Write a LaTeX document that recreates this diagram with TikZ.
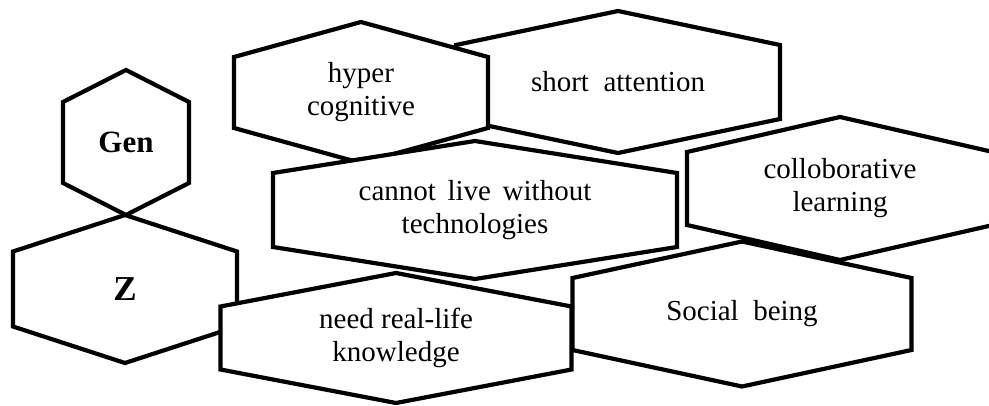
\documentclass[tikz,border=0pt]{standalone}
\usepackage{fontspec}
\setmainfont{Liberation Serif}
\usepackage{tikz}

% hexagon with pointed top and bottom: name, centre x, centre y, half width, half side, half height, text
\newcommand{\drawhex}[7]{%
  \draw[hexline] (#2-#4,#3-#5) -- (#2,#3-#6) -- (#2+#4,#3-#5) -- (#2+#4,#3+#5) -- (#2,#3+#6) -- (#2-#4,#3+#5) -- cycle;
  \node[hextext] (#1) at (#2,#3) {#7};
}

\tikzset{
  hexline/.style={draw=black, fill=white, line width=2.1pt, line join=miter},
  hextext/.style={align=center, inner sep=0pt, font=\fontsize{14.5}{16.5}\selectfont},
  bigtext/.style={hextext, font=\fontsize{15.5}{18}\selectfont\bfseries}
}

\begin{document}
\begin{tikzpicture}[x=0.5pt, y=-0.5pt]
  \useasboundingbox (0,0) rectangle (989,406);

  \drawhex{short}{618}{82}{162}{37}{71}{short~~attention}
  \drawhex{hyper}{361}{92.5}{127}{35.5}{70.5}{hyper\\cognitive}
  \drawhex{cannot}{475}{210}{202}{37}{69}{cannot\hskip.4em live\hskip.4em without\\technologies}
  \drawhex{gen}{126}{142.5}{63}{40.5}{72.5}{}
  \node[bigtext] (gentext) at (gen) {Gen};
  \drawhex{z}{125}{289}{112}{37.5}{74}{}
  \node[bigtext, font=\fontsize{17.5}{20}\selectfont\bfseries] (ztext) at (z) {Z};
  \drawhex{need}{396}{338}{175.5}{31.5}{65}{need real-life\\knowledge}
  \drawhex{collob}{840}{188.5}{153}{36.5}{71.5}{colloborative\\learning}
  \drawhex{social}{742}{314}{169.5}{36}{72.5}{Social~~being}
\end{tikzpicture}
\end{document}
